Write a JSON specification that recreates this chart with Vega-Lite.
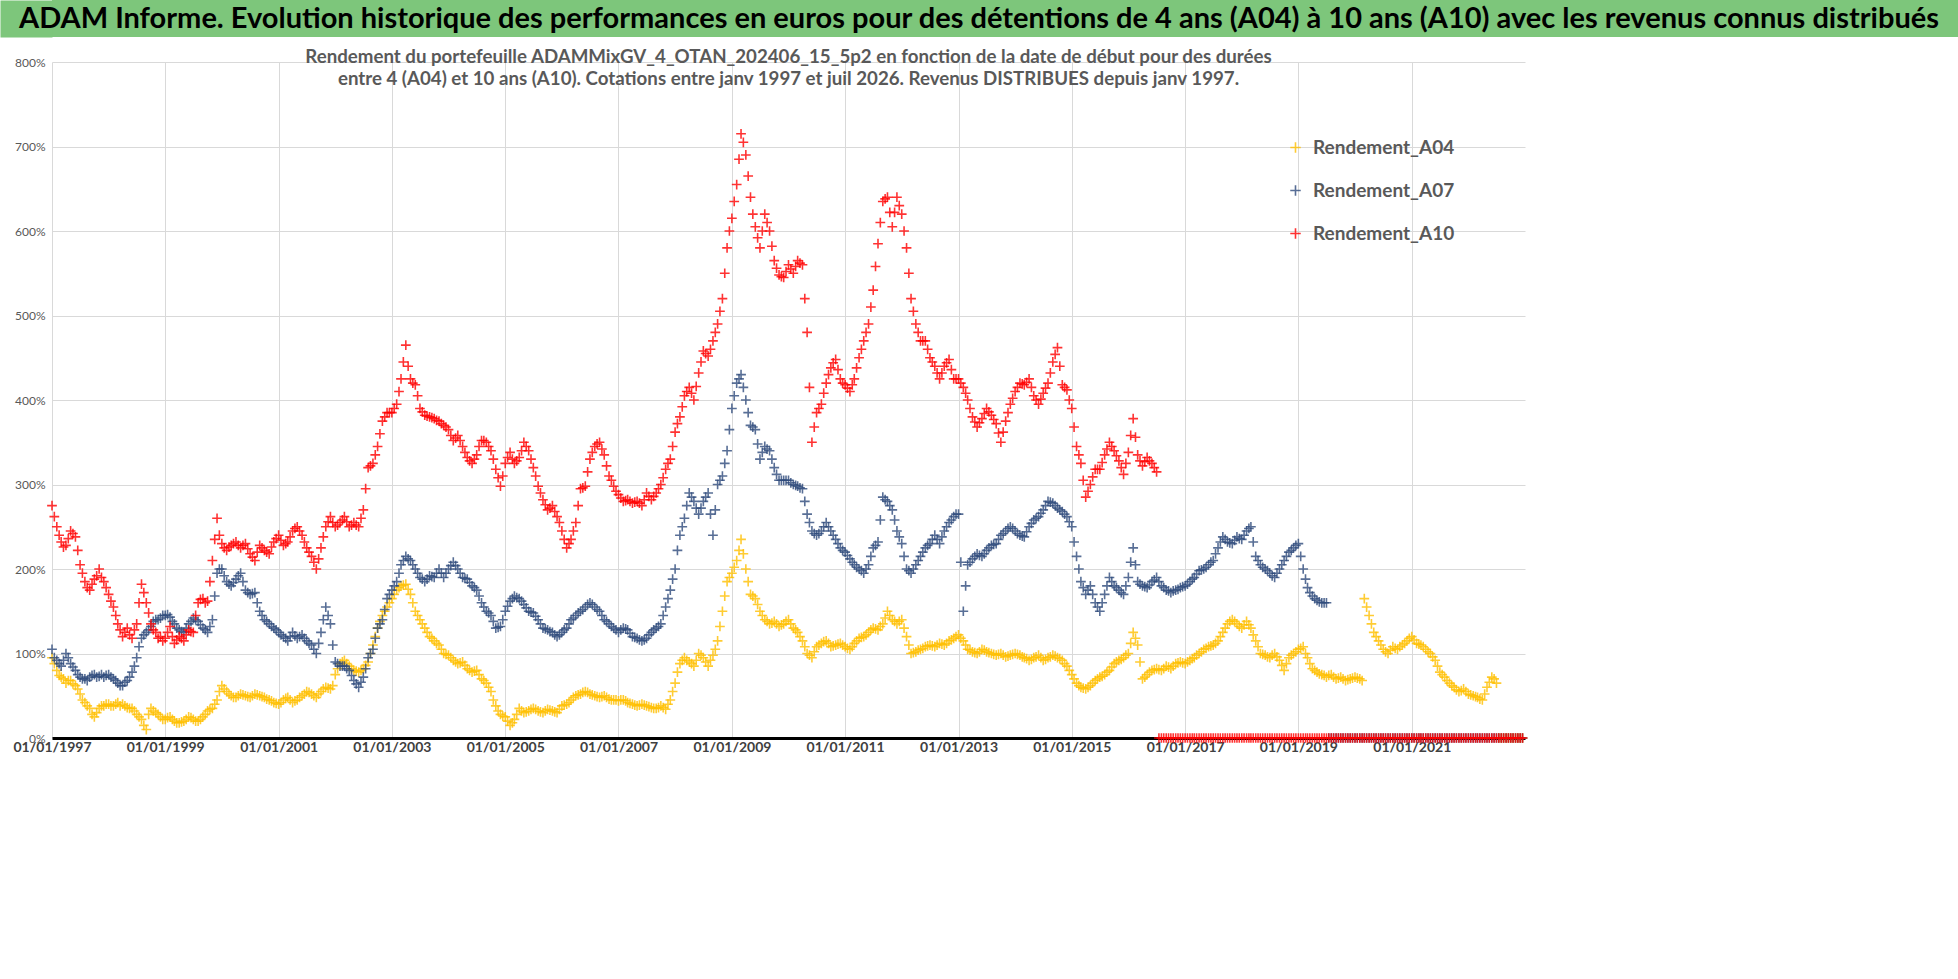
{
"$schema": "https://vega.github.io/schema/vega-lite/v6.json",
"background": "white",
"padding": 0,
"columns": 1,
"bounds": "full",
"spacing": 11,
"config": {"font": "Lato", "view": {"stroke": null}},
"concat": [
{
"width": 1906, "height": 37,
"view": {"fill": "#7DC67B", "stroke": null},
"data": {"values": [{"t": "ADAM Informe. Evolution historique des performances en euros pour des détentions de 4 ans (A04) à 10 ans (A10) avec les revenus connus distribués"}]},
"mark": {"type": "text", "fontSize": 29, "fontWeight": "bold", "color": "#000000", "font": "Lato", "dx": -26},
"encoding": {
"text": {"field": "t", "type": "nominal"},
"y": {"field": "t", "type": "nominal", "axis": {"title": null, "labels": false, "ticks": false, "grid": false, "domain": true, "domainWidth": 52, "domainColor": "#7DC67B", "domainCap": "butt", "offset": 26}}
}
},
{
"width": 1473, "height": 676,
"title": {"text": ["Rendement du portefeuille ADAMMixGV_4_OTAN_202406_15_5p2  en fonction de la date de début pour des durées", "entre 4 (A04) et 10 ans (A10). Cotations entre janv 1997 et juil 2026. Revenus DISTRIBUES depuis janv 1997."], "fontSize": 18.7, "fontWeight": "bold", "color": "#595959", "anchor": "middle", "frame": "group", "offset": -33, "lineHeight": 22, "font": "Lato"},
"data": {"values": [
{"d":"1997-01-01","A04":95,"A07":105,"A10":275},{"d":"1997-01-16","A04":88,"A07":95,"A10":262},{"d":"1997-02-01","A04":80,"A07":92,"A10":250},{"d":"1997-02-16","A04":74,"A07":88,"A10":240},{"d":"1997-03-01","A04":72,"A07":85,"A10":232},{"d":"1997-03-16","A04":70,"A07":92,"A10":226},{"d":"1997-04-01","A04":65,"A07":100,"A10":228},{"d":"1997-04-16","A04":68,"A07":95,"A10":236},{"d":"1997-05-01","A04":68,"A07":88,"A10":245},{"d":"1997-05-16","A04":64,"A07":84,"A10":242},{"d":"1997-06-01","A04":62,"A07":80,"A10":238},{"d":"1997-06-16","A04":58,"A07":75,"A10":222},{"d":"1997-07-01","A04":52,"A07":72,"A10":205},{"d":"1997-07-16","A04":45,"A07":70,"A10":195},{"d":"1997-08-01","A04":42,"A07":70,"A10":185},{"d":"1997-08-16","A04":38,"A07":68,"A10":178},{"d":"1997-09-01","A04":35,"A07":72,"A10":175},{"d":"1997-09-16","A04":28,"A07":74,"A10":182},{"d":"1997-10-01","A04":25,"A07":75,"A10":188},{"d":"1997-10-16","A04":30,"A07":72,"A10":192},{"d":"1997-11-01","A04":35,"A07":73,"A10":200},{"d":"1997-11-16","A04":38,"A07":75,"A10":190},{"d":"1997-12-01","A04":38,"A07":72,"A10":185},{"d":"1997-12-16","A04":40,"A07":74,"A10":178},
{"d":"1998-01-01","A04":40,"A07":75,"A10":170},{"d":"1998-01-16","A04":38,"A07":72,"A10":162},{"d":"1998-02-01","A04":38,"A07":70,"A10":155},{"d":"1998-02-16","A04":40,"A07":68,"A10":145},{"d":"1998-03-01","A04":42,"A07":65,"A10":135},{"d":"1998-03-16","A04":38,"A07":62,"A10":128},{"d":"1998-04-01","A04":40,"A07":62,"A10":120},{"d":"1998-04-16","A04":38,"A07":66,"A10":125},{"d":"1998-05-01","A04":36,"A07":68,"A10":130},{"d":"1998-05-16","A04":35,"A07":72,"A10":122},{"d":"1998-06-01","A04":35,"A07":78,"A10":118},{"d":"1998-06-16","A04":32,"A07":85,"A10":128},{"d":"1998-07-01","A04":28,"A07":95,"A10":135},{"d":"1998-07-16","A04":25,"A07":108,"A10":160},{"d":"1998-08-01","A04":22,"A07":118,"A10":182},{"d":"1998-08-16","A04":15,"A07":122,"A10":172},{"d":"1998-09-01","A04":10,"A07":125,"A10":160},{"d":"1998-09-16","A04":28,"A07":128,"A10":148},{"d":"1998-10-01","A04":35,"A07":132,"A10":135},{"d":"1998-10-16","A04":32,"A07":138,"A10":128},{"d":"1998-11-01","A04":30,"A07":140,"A10":125},{"d":"1998-11-16","A04":28,"A07":140,"A10":118},{"d":"1998-12-01","A04":25,"A07":142,"A10":120},{"d":"1998-12-16","A04":22,"A07":145,"A10":115},
{"d":"1999-01-01","A04":22,"A07":145,"A10":118},{"d":"1999-01-16","A04":24,"A07":146,"A10":125},{"d":"1999-02-01","A04":25,"A07":143,"A10":132},{"d":"1999-02-16","A04":22,"A07":138,"A10":120},{"d":"1999-03-01","A04":20,"A07":135,"A10":112},{"d":"1999-03-16","A04":18,"A07":130,"A10":116},{"d":"1999-04-01","A04":18,"A07":128,"A10":120},{"d":"1999-04-16","A04":19,"A07":126,"A10":118},{"d":"1999-05-01","A04":20,"A07":125,"A10":115},{"d":"1999-05-16","A04":22,"A07":130,"A10":122},{"d":"1999-06-01","A04":25,"A07":135,"A10":128},{"d":"1999-06-16","A04":24,"A07":138,"A10":126},{"d":"1999-07-01","A04":22,"A07":142,"A10":125},{"d":"1999-07-16","A04":20,"A07":140,"A10":145},{"d":"1999-08-01","A04":20,"A07":138,"A10":160},{"d":"1999-08-16","A04":22,"A07":134,"A10":164},{"d":"1999-09-01","A04":25,"A07":130,"A10":165},{"d":"1999-09-16","A04":28,"A07":128,"A10":160},{"d":"1999-10-01","A04":32,"A07":125,"A10":162},{"d":"1999-10-16","A04":34,"A07":132,"A10":185},{"d":"1999-11-01","A04":35,"A07":140,"A10":210},{"d":"1999-11-16","A04":40,"A07":168,"A10":235},{"d":"1999-12-01","A04":45,"A07":195,"A10":260},{"d":"1999-12-16","A04":55,"A07":200,"A10":240},
{"d":"2000-01-01","A04":62,"A07":200,"A10":230},{"d":"2000-01-16","A04":58,"A07":192,"A10":225},{"d":"2000-02-01","A04":55,"A07":185,"A10":222},{"d":"2000-02-16","A04":52,"A07":182,"A10":226},{"d":"2000-03-01","A04":50,"A07":180,"A10":228},{"d":"2000-03-16","A04":48,"A07":184,"A10":230},{"d":"2000-04-01","A04":48,"A07":188,"A10":232},{"d":"2000-04-16","A04":50,"A07":192,"A10":228},{"d":"2000-05-01","A04":52,"A07":195,"A10":225},{"d":"2000-05-16","A04":51,"A07":185,"A10":228},{"d":"2000-06-01","A04":50,"A07":175,"A10":230},{"d":"2000-06-16","A04":49,"A07":172,"A10":224},{"d":"2000-07-01","A04":48,"A07":170,"A10":218},{"d":"2000-07-16","A04":50,"A07":171,"A10":214},{"d":"2000-08-01","A04":52,"A07":172,"A10":210},{"d":"2000-08-16","A04":51,"A07":160,"A10":220},{"d":"2000-09-01","A04":50,"A07":150,"A10":228},{"d":"2000-09-16","A04":49,"A07":145,"A10":225},{"d":"2000-10-01","A04":48,"A07":140,"A10":222},{"d":"2000-10-16","A04":46,"A07":138,"A10":220},{"d":"2000-11-01","A04":45,"A07":135,"A10":218},{"d":"2000-11-16","A04":44,"A07":132,"A10":226},{"d":"2000-12-01","A04":42,"A07":130,"A10":232},{"d":"2000-12-16","A04":41,"A07":128,"A10":236},
{"d":"2001-01-01","A04":40,"A07":125,"A10":240},{"d":"2001-01-16","A04":42,"A07":122,"A10":234},{"d":"2001-02-01","A04":45,"A07":120,"A10":228},{"d":"2001-02-16","A04":47,"A07":118,"A10":230},{"d":"2001-03-01","A04":48,"A07":115,"A10":232},{"d":"2001-03-16","A04":45,"A07":120,"A10":238},{"d":"2001-04-01","A04":42,"A07":125,"A10":245},{"d":"2001-04-16","A04":44,"A07":121,"A10":248},{"d":"2001-05-01","A04":45,"A07":118,"A10":250},{"d":"2001-05-16","A04":48,"A07":120,"A10":245},{"d":"2001-06-01","A04":50,"A07":122,"A10":240},{"d":"2001-06-16","A04":52,"A07":118,"A10":232},{"d":"2001-07-01","A04":55,"A07":115,"A10":225},{"d":"2001-07-16","A04":54,"A07":112,"A10":220},{"d":"2001-08-01","A04":52,"A07":110,"A10":215},{"d":"2001-08-16","A04":50,"A07":105,"A10":208},{"d":"2001-09-01","A04":48,"A07":100,"A10":200},{"d":"2001-09-16","A04":52,"A07":112,"A10":212},{"d":"2001-10-01","A04":55,"A07":125,"A10":225},{"d":"2001-10-16","A04":58,"A07":140,"A10":238},{"d":"2001-11-01","A04":60,"A07":155,"A10":250},{"d":"2001-11-16","A04":59,"A07":145,"A10":256},{"d":"2001-12-01","A04":58,"A07":135,"A10":262},{"d":"2001-12-16","A04":62,"A07":110,"A10":255},
{"d":"2002-01-01","A04":75,"A07":90,"A10":250},{"d":"2002-01-16","A04":82,"A07":88,"A10":252},{"d":"2002-02-01","A04":88,"A07":85,"A10":255},{"d":"2002-02-16","A04":90,"A07":85,"A10":258},{"d":"2002-03-01","A04":92,"A07":85,"A10":262},{"d":"2002-03-16","A04":88,"A07":82,"A10":256},{"d":"2002-04-01","A04":85,"A07":80,"A10":250},{"d":"2002-04-16","A04":82,"A07":74,"A10":252},{"d":"2002-05-01","A04":80,"A07":68,"A10":255},{"d":"2002-05-16","A04":79,"A07":64,"A10":252},{"d":"2002-06-01","A04":78,"A07":60,"A10":250},{"d":"2002-06-16","A04":80,"A07":66,"A10":260},{"d":"2002-07-01","A04":82,"A07":72,"A10":270},{"d":"2002-07-16","A04":86,"A07":82,"A10":295},{"d":"2002-08-01","A04":90,"A07":95,"A10":320},{"d":"2002-08-16","A04":100,"A07":100,"A10":322},{"d":"2002-09-01","A04":110,"A07":105,"A10":325},{"d":"2002-09-16","A04":120,"A07":118,"A10":335},{"d":"2002-10-01","A04":130,"A07":130,"A10":345},{"d":"2002-10-16","A04":138,"A07":135,"A10":360},{"d":"2002-11-01","A04":145,"A07":140,"A10":375},{"d":"2002-11-16","A04":150,"A07":152,"A10":380},{"d":"2002-12-01","A04":155,"A07":165,"A10":385},{"d":"2002-12-16","A04":160,"A07":170,"A10":385},
{"d":"2003-01-01","A04":165,"A07":175,"A10":385},{"d":"2003-01-16","A04":170,"A07":180,"A10":390},{"d":"2003-02-01","A04":175,"A07":185,"A10":395},{"d":"2003-02-16","A04":178,"A07":195,"A10":410},{"d":"2003-03-01","A04":180,"A07":205,"A10":425},{"d":"2003-03-16","A04":181,"A07":210,"A10":445},{"d":"2003-04-01","A04":182,"A07":215,"A10":465},{"d":"2003-04-16","A04":176,"A07":212,"A10":440},{"d":"2003-05-01","A04":170,"A07":210,"A10":425},{"d":"2003-05-16","A04":160,"A07":205,"A10":420},{"d":"2003-06-01","A04":150,"A07":200,"A10":418},{"d":"2003-06-16","A04":145,"A07":195,"A10":405},{"d":"2003-07-01","A04":140,"A07":190,"A10":390},{"d":"2003-07-16","A04":135,"A07":188,"A10":386},{"d":"2003-08-01","A04":130,"A07":185,"A10":382},{"d":"2003-08-16","A04":125,"A07":188,"A10":381},{"d":"2003-09-01","A04":120,"A07":192,"A10":380},{"d":"2003-09-16","A04":118,"A07":191,"A10":379},{"d":"2003-10-01","A04":115,"A07":190,"A10":378},{"d":"2003-10-16","A04":112,"A07":195,"A10":376},{"d":"2003-11-01","A04":110,"A07":200,"A10":375},{"d":"2003-11-16","A04":105,"A07":195,"A10":372},{"d":"2003-12-01","A04":100,"A07":190,"A10":370},{"d":"2003-12-16","A04":99,"A07":195,"A10":368},
{"d":"2004-01-01","A04":98,"A07":200,"A10":365},{"d":"2004-01-16","A04":95,"A07":204,"A10":358},{"d":"2004-02-01","A04":92,"A07":208,"A10":352},{"d":"2004-02-16","A04":90,"A07":204,"A10":355},{"d":"2004-03-01","A04":88,"A07":200,"A10":358},{"d":"2004-03-16","A04":89,"A07":195,"A10":352},{"d":"2004-04-01","A04":90,"A07":190,"A10":345},{"d":"2004-04-16","A04":86,"A07":189,"A10":338},{"d":"2004-05-01","A04":82,"A07":188,"A10":332},{"d":"2004-05-16","A04":80,"A07":184,"A10":328},{"d":"2004-06-01","A04":78,"A07":180,"A10":325},{"d":"2004-06-16","A04":79,"A07":178,"A10":330},{"d":"2004-07-01","A04":80,"A07":175,"A10":335},{"d":"2004-07-16","A04":75,"A07":168,"A10":345},{"d":"2004-08-01","A04":70,"A07":160,"A10":352},{"d":"2004-08-16","A04":68,"A07":155,"A10":352},{"d":"2004-09-01","A04":65,"A07":150,"A10":350},{"d":"2004-09-16","A04":60,"A07":148,"A10":345},{"d":"2004-10-01","A04":55,"A07":145,"A10":340},{"d":"2004-10-16","A04":45,"A07":138,"A10":330},{"d":"2004-11-01","A04":38,"A07":130,"A10":318},{"d":"2004-11-16","A04":32,"A07":131,"A10":308},{"d":"2004-12-01","A04":28,"A07":132,"A10":298},{"d":"2004-12-16","A04":26,"A07":140,"A10":310},
{"d":"2005-01-01","A04":25,"A07":150,"A10":325},{"d":"2005-01-16","A04":20,"A07":156,"A10":332},{"d":"2005-02-01","A04":15,"A07":162,"A10":338},{"d":"2005-02-16","A04":18,"A07":165,"A10":330},{"d":"2005-03-01","A04":22,"A07":168,"A10":325},{"d":"2005-03-16","A04":28,"A07":166,"A10":328},{"d":"2005-04-01","A04":35,"A07":165,"A10":332},{"d":"2005-04-16","A04":32,"A07":162,"A10":340},{"d":"2005-05-01","A04":30,"A07":158,"A10":350},{"d":"2005-05-16","A04":31,"A07":154,"A10":345},{"d":"2005-06-01","A04":32,"A07":150,"A10":340},{"d":"2005-06-16","A04":34,"A07":149,"A10":330},{"d":"2005-07-01","A04":35,"A07":148,"A10":320},{"d":"2005-07-16","A04":34,"A07":144,"A10":310},{"d":"2005-08-01","A04":32,"A07":140,"A10":298},{"d":"2005-08-16","A04":31,"A07":135,"A10":290},{"d":"2005-09-01","A04":30,"A07":130,"A10":282},{"d":"2005-09-16","A04":32,"A07":129,"A10":276},{"d":"2005-10-01","A04":34,"A07":128,"A10":270},{"d":"2005-10-16","A04":33,"A07":126,"A10":272},{"d":"2005-11-01","A04":32,"A07":125,"A10":275},{"d":"2005-11-16","A04":31,"A07":122,"A10":268},{"d":"2005-12-01","A04":30,"A07":120,"A10":262},{"d":"2005-12-16","A04":34,"A07":122,"A10":255},
{"d":"2006-01-01","A04":38,"A07":125,"A10":245},{"d":"2006-01-16","A04":39,"A07":128,"A10":235},{"d":"2006-02-01","A04":40,"A07":130,"A10":225},{"d":"2006-02-16","A04":42,"A07":135,"A10":230},{"d":"2006-03-01","A04":45,"A07":140,"A10":235},{"d":"2006-03-16","A04":48,"A07":142,"A10":245},{"d":"2006-04-01","A04":50,"A07":145,"A10":255},{"d":"2006-04-16","A04":51,"A07":148,"A10":275},{"d":"2006-05-01","A04":52,"A07":150,"A10":295},{"d":"2006-05-16","A04":54,"A07":152,"A10":296},{"d":"2006-06-01","A04":55,"A07":155,"A10":298},{"d":"2006-06-16","A04":54,"A07":158,"A10":315},{"d":"2006-07-01","A04":52,"A07":160,"A10":330},{"d":"2006-07-16","A04":51,"A07":158,"A10":338},{"d":"2006-08-01","A04":50,"A07":155,"A10":345},{"d":"2006-08-16","A04":49,"A07":152,"A10":348},{"d":"2006-09-01","A04":48,"A07":150,"A10":350},{"d":"2006-09-16","A04":49,"A07":145,"A10":342},{"d":"2006-10-01","A04":50,"A07":140,"A10":335},{"d":"2006-10-16","A04":48,"A07":138,"A10":322},{"d":"2006-11-01","A04":46,"A07":135,"A10":310},{"d":"2006-11-16","A04":45,"A07":132,"A10":305},{"d":"2006-12-01","A04":45,"A07":130,"A10":298},{"d":"2006-12-16","A04":45,"A07":128,"A10":292},
{"d":"2007-01-01","A04":44,"A07":125,"A10":288},{"d":"2007-01-16","A04":45,"A07":128,"A10":284},{"d":"2007-02-01","A04":45,"A07":130,"A10":280},{"d":"2007-02-16","A04":44,"A07":129,"A10":281},{"d":"2007-03-01","A04":42,"A07":128,"A10":282},{"d":"2007-03-16","A04":41,"A07":124,"A10":280},{"d":"2007-04-01","A04":40,"A07":120,"A10":278},{"d":"2007-04-16","A04":39,"A07":119,"A10":279},{"d":"2007-05-01","A04":38,"A07":118,"A10":280},{"d":"2007-05-16","A04":39,"A07":116,"A10":278},{"d":"2007-06-01","A04":40,"A07":115,"A10":275},{"d":"2007-06-16","A04":39,"A07":116,"A10":282},{"d":"2007-07-01","A04":38,"A07":118,"A10":290},{"d":"2007-07-16","A04":37,"A07":122,"A10":286},{"d":"2007-08-01","A04":36,"A07":125,"A10":282},{"d":"2007-08-16","A04":35,"A07":128,"A10":286},{"d":"2007-09-01","A04":35,"A07":130,"A10":290},{"d":"2007-09-16","A04":36,"A07":132,"A10":295},{"d":"2007-10-01","A04":38,"A07":135,"A10":300},{"d":"2007-10-16","A04":36,"A07":145,"A10":308},{"d":"2007-11-01","A04":34,"A07":155,"A10":318},{"d":"2007-11-16","A04":40,"A07":165,"A10":325},{"d":"2007-12-01","A04":45,"A07":175,"A10":330},{"d":"2007-12-16","A04":55,"A07":188,"A10":345},
{"d":"2008-01-01","A04":65,"A07":200,"A10":362},{"d":"2008-01-16","A04":78,"A07":222,"A10":372},{"d":"2008-02-01","A04":88,"A07":240,"A10":380},{"d":"2008-02-16","A04":92,"A07":250,"A10":392},{"d":"2008-03-01","A04":95,"A07":260,"A10":405},{"d":"2008-03-16","A04":92,"A07":275,"A10":410},{"d":"2008-04-01","A04":90,"A07":290,"A10":415},{"d":"2008-04-16","A04":88,"A07":285,"A10":408},{"d":"2008-05-01","A04":85,"A07":280,"A10":400},{"d":"2008-05-16","A04":92,"A07":272,"A10":416},{"d":"2008-06-01","A04":100,"A07":265,"A10":432},{"d":"2008-06-16","A04":98,"A07":272,"A10":445},{"d":"2008-07-01","A04":95,"A07":280,"A10":458},{"d":"2008-07-16","A04":90,"A07":285,"A10":455},{"d":"2008-08-01","A04":85,"A07":290,"A10":452},{"d":"2008-08-16","A04":92,"A07":265,"A10":460},{"d":"2008-09-01","A04":98,"A07":240,"A10":470},{"d":"2008-09-16","A04":105,"A07":270,"A10":480},{"d":"2008-10-01","A04":115,"A07":300,"A10":490},{"d":"2008-10-16","A04":132,"A07":305,"A10":505},{"d":"2008-11-01","A04":150,"A07":310,"A10":520},{"d":"2008-11-16","A04":168,"A07":325,"A10":550},{"d":"2008-12-01","A04":185,"A07":340,"A10":580},{"d":"2008-12-16","A04":190,"A07":365,"A10":600},
{"d":"2009-01-01","A04":195,"A07":390,"A10":615},{"d":"2009-01-16","A04":202,"A07":405,"A10":635},{"d":"2009-02-01","A04":210,"A07":420,"A10":655},{"d":"2009-02-16","A04":222,"A07":425,"A10":685},{"d":"2009-03-01","A04":235,"A07":430,"A10":715},{"d":"2009-03-16","A04":218,"A07":415,"A10":705},{"d":"2009-04-01","A04":200,"A07":400,"A10":690},{"d":"2009-04-16","A04":185,"A07":385,"A10":665},{"d":"2009-05-01","A04":170,"A07":370,"A10":640},{"d":"2009-05-16","A04":168,"A07":368,"A10":620},{"d":"2009-06-01","A04":165,"A07":365,"A10":605},{"d":"2009-06-16","A04":158,"A07":348,"A10":592},{"d":"2009-07-01","A04":150,"A07":330,"A10":580},{"d":"2009-07-16","A04":145,"A07":338,"A10":600},{"d":"2009-08-01","A04":140,"A07":345,"A10":620},{"d":"2009-08-16","A04":138,"A07":342,"A10":610},{"d":"2009-09-01","A04":135,"A07":340,"A10":600},{"d":"2009-09-16","A04":136,"A07":330,"A10":582},{"d":"2009-10-01","A04":138,"A07":320,"A10":565},{"d":"2009-10-16","A04":135,"A07":312,"A10":556},{"d":"2009-11-01","A04":132,"A07":305,"A10":548},{"d":"2009-11-16","A04":134,"A07":305,"A10":546},{"d":"2009-12-01","A04":135,"A07":305,"A10":545},{"d":"2009-12-16","A04":138,"A07":305,"A10":552},
{"d":"2010-01-01","A04":140,"A07":305,"A10":560},{"d":"2010-01-16","A04":135,"A07":302,"A10":555},{"d":"2010-02-01","A04":130,"A07":300,"A10":550},{"d":"2010-02-16","A04":128,"A07":299,"A10":558},{"d":"2010-03-01","A04":125,"A07":298,"A10":565},{"d":"2010-03-16","A04":120,"A07":296,"A10":562},{"d":"2010-04-01","A04":115,"A07":295,"A10":560},{"d":"2010-04-16","A04":108,"A07":280,"A10":520},{"d":"2010-05-01","A04":100,"A07":265,"A10":480},{"d":"2010-05-16","A04":98,"A07":255,"A10":415},{"d":"2010-06-01","A04":95,"A07":245,"A10":350},{"d":"2010-06-16","A04":102,"A07":242,"A10":368},{"d":"2010-07-01","A04":108,"A07":240,"A10":385},{"d":"2010-07-16","A04":110,"A07":242,"A10":390},{"d":"2010-08-01","A04":112,"A07":245,"A10":395},{"d":"2010-08-16","A04":114,"A07":250,"A10":408},{"d":"2010-09-01","A04":115,"A07":255,"A10":420},{"d":"2010-09-16","A04":112,"A07":250,"A10":430},{"d":"2010-10-01","A04":108,"A07":245,"A10":438},{"d":"2010-10-16","A04":109,"A07":240,"A10":444},{"d":"2010-11-01","A04":110,"A07":235,"A10":448},{"d":"2010-11-16","A04":111,"A07":230,"A10":436},{"d":"2010-12-01","A04":112,"A07":225,"A10":425},{"d":"2010-12-16","A04":110,"A07":222,"A10":420},
{"d":"2011-01-01","A04":108,"A07":220,"A10":418},{"d":"2011-01-16","A04":106,"A07":216,"A10":414},{"d":"2011-02-01","A04":105,"A07":212,"A10":410},{"d":"2011-02-16","A04":108,"A07":208,"A10":418},{"d":"2011-03-01","A04":112,"A07":205,"A10":425},{"d":"2011-03-16","A04":115,"A07":202,"A10":438},{"d":"2011-04-01","A04":118,"A07":200,"A10":450},{"d":"2011-04-16","A04":119,"A07":198,"A10":460},{"d":"2011-05-01","A04":120,"A07":195,"A10":470},{"d":"2011-05-16","A04":122,"A07":200,"A10":480},{"d":"2011-06-01","A04":125,"A07":205,"A10":490},{"d":"2011-06-16","A04":128,"A07":215,"A10":510},{"d":"2011-07-01","A04":130,"A07":225,"A10":530},{"d":"2011-07-16","A04":129,"A07":228,"A10":558},{"d":"2011-08-01","A04":128,"A07":232,"A10":585},{"d":"2011-08-16","A04":132,"A07":258,"A10":610},{"d":"2011-09-01","A04":135,"A07":285,"A10":635},{"d":"2011-09-16","A04":142,"A07":282,"A10":638},{"d":"2011-10-01","A04":150,"A07":280,"A10":640},{"d":"2011-10-16","A04":145,"A07":275,"A10":622},{"d":"2011-11-01","A04":140,"A07":270,"A10":605},{"d":"2011-11-16","A04":138,"A07":258,"A10":622},{"d":"2011-12-01","A04":135,"A07":245,"A10":640},{"d":"2011-12-16","A04":138,"A07":238,"A10":630},
{"d":"2012-01-01","A04":140,"A07":230,"A10":620},{"d":"2012-01-16","A04":130,"A07":215,"A10":600},{"d":"2012-02-01","A04":120,"A07":200,"A10":580},{"d":"2012-02-16","A04":110,"A07":198,"A10":550},{"d":"2012-03-01","A04":100,"A07":195,"A10":520},{"d":"2012-03-16","A04":101,"A07":200,"A10":505},{"d":"2012-04-01","A04":102,"A07":205,"A10":490},{"d":"2012-04-16","A04":104,"A07":210,"A10":480},{"d":"2012-05-01","A04":105,"A07":215,"A10":470},{"d":"2012-05-16","A04":106,"A07":220,"A10":470},{"d":"2012-06-01","A04":108,"A07":225,"A10":470},{"d":"2012-06-16","A04":109,"A07":228,"A10":460},{"d":"2012-07-01","A04":110,"A07":230,"A10":450},{"d":"2012-07-16","A04":109,"A07":235,"A10":445},{"d":"2012-08-01","A04":108,"A07":240,"A10":440},{"d":"2012-08-16","A04":110,"A07":235,"A10":432},{"d":"2012-09-01","A04":112,"A07":230,"A10":425},{"d":"2012-09-16","A04":111,"A07":238,"A10":432},{"d":"2012-10-01","A04":110,"A07":245,"A10":440},{"d":"2012-10-16","A04":112,"A07":250,"A10":444},{"d":"2012-11-01","A04":115,"A07":255,"A10":448},{"d":"2012-11-16","A04":116,"A07":258,"A10":436},{"d":"2012-12-01","A04":118,"A07":262,"A10":425},{"d":"2012-12-16","A04":120,"A07":265,"A10":425},
{"d":"2013-01-01","A04":122,"A07":265,"A10":425},{"d":"2013-01-16","A04":118,"A07":208,"A10":420},{"d":"2013-02-01","A04":115,"A07":150,"A10":415},{"d":"2013-02-16","A04":110,"A07":180,"A10":408},{"d":"2013-03-01","A04":105,"A07":205,"A10":400},{"d":"2013-03-16","A04":104,"A07":208,"A10":390},{"d":"2013-04-01","A04":102,"A07":212,"A10":380},{"d":"2013-04-16","A04":101,"A07":215,"A10":374},{"d":"2013-05-01","A04":100,"A07":218,"A10":368},{"d":"2013-05-16","A04":102,"A07":216,"A10":373},{"d":"2013-06-01","A04":105,"A07":215,"A10":378},{"d":"2013-06-16","A04":104,"A07":218,"A10":384},{"d":"2013-07-01","A04":102,"A07":222,"A10":390},{"d":"2013-07-16","A04":101,"A07":225,"A10":386},{"d":"2013-08-01","A04":100,"A07":228,"A10":382},{"d":"2013-08-16","A04":99,"A07":229,"A10":377},{"d":"2013-09-01","A04":98,"A07":230,"A10":372},{"d":"2013-09-16","A04":99,"A07":235,"A10":361},{"d":"2013-10-01","A04":100,"A07":240,"A10":350},{"d":"2013-10-16","A04":98,"A07":242,"A10":362},{"d":"2013-11-01","A04":96,"A07":245,"A10":375},{"d":"2013-11-16","A04":97,"A07":248,"A10":385},{"d":"2013-12-01","A04":98,"A07":250,"A10":395},{"d":"2013-12-16","A04":99,"A07":248,"A10":402},
{"d":"2014-01-01","A04":100,"A07":245,"A10":410},{"d":"2014-01-16","A04":99,"A07":242,"A10":415},{"d":"2014-02-01","A04":98,"A07":240,"A10":420},{"d":"2014-02-16","A04":96,"A07":239,"A10":419},{"d":"2014-03-01","A04":95,"A07":238,"A10":418},{"d":"2014-03-16","A04":94,"A07":244,"A10":421},{"d":"2014-04-01","A04":92,"A07":250,"A10":425},{"d":"2014-04-16","A04":93,"A07":254,"A10":415},{"d":"2014-05-01","A04":95,"A07":258,"A10":405},{"d":"2014-05-16","A04":96,"A07":260,"A10":400},{"d":"2014-06-01","A04":98,"A07":262,"A10":395},{"d":"2014-06-16","A04":95,"A07":266,"A10":401},{"d":"2014-07-01","A04":92,"A07":270,"A10":408},{"d":"2014-07-16","A04":93,"A07":275,"A10":414},{"d":"2014-08-01","A04":95,"A07":280,"A10":420},{"d":"2014-08-16","A04":96,"A07":279,"A10":432},{"d":"2014-09-01","A04":98,"A07":278,"A10":445},{"d":"2014-09-16","A04":97,"A07":275,"A10":454},{"d":"2014-10-01","A04":95,"A07":272,"A10":462},{"d":"2014-10-16","A04":94,"A07":270,"A10":440},{"d":"2014-11-01","A04":92,"A07":268,"A10":418},{"d":"2014-11-16","A04":88,"A07":265,"A10":415},{"d":"2014-12-01","A04":85,"A07":262,"A10":412},{"d":"2014-12-16","A04":80,"A07":256,"A10":400},
{"d":"2015-01-01","A04":75,"A07":250,"A10":390},{"d":"2015-01-16","A04":70,"A07":232,"A10":368},{"d":"2015-02-01","A04":65,"A07":215,"A10":345},{"d":"2015-02-16","A04":62,"A07":200,"A10":335},{"d":"2015-03-01","A04":60,"A07":185,"A10":325},{"d":"2015-03-16","A04":59,"A07":178,"A10":305},{"d":"2015-04-01","A04":58,"A07":170,"A10":285},{"d":"2015-04-16","A04":60,"A07":175,"A10":292},{"d":"2015-05-01","A04":62,"A07":180,"A10":300},{"d":"2015-05-16","A04":65,"A07":170,"A10":309},{"d":"2015-06-01","A04":68,"A07":160,"A10":318},{"d":"2015-06-16","A04":70,"A07":155,"A10":318},{"d":"2015-07-01","A04":72,"A07":150,"A10":318},{"d":"2015-07-16","A04":73,"A07":160,"A10":326},{"d":"2015-08-01","A04":75,"A07":170,"A10":335},{"d":"2015-08-16","A04":78,"A07":180,"A10":342},{"d":"2015-09-01","A04":80,"A07":190,"A10":350},{"d":"2015-09-16","A04":84,"A07":185,"A10":345},{"d":"2015-10-01","A04":88,"A07":180,"A10":340},{"d":"2015-10-16","A04":90,"A07":178,"A10":334},{"d":"2015-11-01","A04":92,"A07":175,"A10":328},{"d":"2015-11-16","A04":93,"A07":172,"A10":320},{"d":"2015-12-01","A04":95,"A07":170,"A10":312},{"d":"2015-12-16","A04":98,"A07":180,"A10":325},
{"d":"2016-01-01","A04":100,"A07":190,"A10":338},{"d":"2016-01-16","A04":112,"A07":208,"A10":358},{"d":"2016-02-01","A04":125,"A07":225,"A10":378},{"d":"2016-02-16","A04":118,"A07":205,"A10":356},{"d":"2016-03-01","A04":110,"A07":185,"A10":335},{"d":"2016-03-16","A04":90,"A07":182,"A10":328},{"d":"2016-04-01","A04":70,"A07":180,"A10":322},{"d":"2016-04-16","A04":72,"A07":179,"A10":327},{"d":"2016-05-01","A04":75,"A07":178,"A10":332},{"d":"2016-05-16","A04":78,"A07":181,"A10":328},{"d":"2016-06-01","A04":80,"A07":185,"A10":325},{"d":"2016-06-16","A04":81,"A07":187,"A10":320},{"d":"2016-07-01","A04":82,"A07":190,"A10":315},{"d":"2016-07-16","A04":81,"A07":185,"A10":0},{"d":"2016-08-01","A04":80,"A07":180,"A10":0},{"d":"2016-08-16","A04":82,"A07":178,"A10":0},{"d":"2016-09-01","A04":85,"A07":175,"A10":0},{"d":"2016-09-16","A04":84,"A07":174,"A10":0},{"d":"2016-10-01","A04":82,"A07":172,"A10":0},{"d":"2016-10-16","A04":85,"A07":174,"A10":0},{"d":"2016-11-01","A04":88,"A07":175,"A10":0},{"d":"2016-11-16","A04":89,"A07":176,"A10":0},{"d":"2016-12-01","A04":90,"A07":178,"A10":0},{"d":"2016-12-16","A04":89,"A07":179,"A10":0},
{"d":"2017-01-01","A04":88,"A07":180,"A10":0},{"d":"2017-01-16","A04":90,"A07":182,"A10":0},{"d":"2017-02-01","A04":92,"A07":185,"A10":0},{"d":"2017-02-16","A04":94,"A07":188,"A10":0},{"d":"2017-03-01","A04":95,"A07":190,"A10":0},{"d":"2017-03-16","A04":98,"A07":194,"A10":0},{"d":"2017-04-01","A04":100,"A07":198,"A10":0},{"d":"2017-04-16","A04":102,"A07":199,"A10":0},{"d":"2017-05-01","A04":105,"A07":200,"A10":0},{"d":"2017-05-16","A04":106,"A07":202,"A10":0},{"d":"2017-06-01","A04":108,"A07":205,"A10":0},{"d":"2017-06-16","A04":109,"A07":208,"A10":0},{"d":"2017-07-01","A04":110,"A07":210,"A10":0},{"d":"2017-07-16","A04":112,"A07":218,"A10":0},{"d":"2017-08-01","A04":115,"A07":225,"A10":0},{"d":"2017-08-16","A04":120,"A07":232,"A10":0},{"d":"2017-09-01","A04":125,"A07":238,"A10":0},{"d":"2017-09-16","A04":130,"A07":235,"A10":0},{"d":"2017-10-01","A04":135,"A07":232,"A10":0},{"d":"2017-10-16","A04":138,"A07":231,"A10":0},{"d":"2017-11-01","A04":140,"A07":230,"A10":0},{"d":"2017-11-16","A04":138,"A07":234,"A10":0},{"d":"2017-12-01","A04":135,"A07":238,"A10":0},{"d":"2017-12-16","A04":132,"A07":236,"A10":0},
{"d":"2018-01-01","A04":130,"A07":235,"A10":0},{"d":"2018-01-16","A04":134,"A07":240,"A10":0},{"d":"2018-02-01","A04":138,"A07":245,"A10":0},{"d":"2018-02-16","A04":134,"A07":248,"A10":0},{"d":"2018-03-01","A04":130,"A07":250,"A10":0},{"d":"2018-03-16","A04":122,"A07":232,"A10":0},{"d":"2018-04-01","A04":115,"A07":215,"A10":0},{"d":"2018-04-16","A04":108,"A07":210,"A10":0},{"d":"2018-05-01","A04":100,"A07":205,"A10":0},{"d":"2018-05-16","A04":99,"A07":202,"A10":0},{"d":"2018-06-01","A04":98,"A07":200,"A10":0},{"d":"2018-06-16","A04":96,"A07":198,"A10":0},{"d":"2018-07-01","A04":95,"A07":195,"A10":0},{"d":"2018-07-16","A04":98,"A07":192,"A10":0},{"d":"2018-08-01","A04":100,"A07":190,"A10":0},{"d":"2018-08-16","A04":96,"A07":195,"A10":0},{"d":"2018-09-01","A04":92,"A07":200,"A10":0},{"d":"2018-09-16","A04":86,"A07":205,"A10":0},{"d":"2018-10-01","A04":80,"A07":210,"A10":0},{"d":"2018-10-16","A04":88,"A07":215,"A10":0},{"d":"2018-11-01","A04":95,"A07":220,"A10":0},{"d":"2018-11-16","A04":98,"A07":222,"A10":0},{"d":"2018-12-01","A04":100,"A07":225,"A10":0},{"d":"2018-12-16","A04":102,"A07":228,"A10":0},
{"d":"2019-01-01","A04":105,"A07":230,"A10":0},{"d":"2019-01-16","A04":106,"A07":215,"A10":0},{"d":"2019-02-01","A04":108,"A07":200,"A10":0},{"d":"2019-02-16","A04":100,"A07":188,"A10":0},{"d":"2019-03-01","A04":95,"A07":178,"A10":0},{"d":"2019-03-16","A04":88,"A07":172,"A10":0},{"d":"2019-04-01","A04":82,"A07":168,"A10":0},{"d":"2019-04-16","A04":80,"A07":165,"A10":0},{"d":"2019-05-01","A04":78,"A07":163,"A10":0},{"d":"2019-05-16","A04":76,"A07":161,"A10":0},{"d":"2019-06-01","A04":75,"A07":160,"A10":0},{"d":"2019-06-16","A04":74,"A07":160,"A10":0},{"d":"2019-07-01","A04":72,"A07":160,"A10":0},{"d":"2019-07-16","A04":74,"A07":0,"A10":0},{"d":"2019-08-01","A04":75,"A07":0,"A10":0},{"d":"2019-08-16","A04":72,"A07":0,"A10":0},{"d":"2019-09-01","A04":70,"A07":0,"A10":0},{"d":"2019-09-16","A04":71,"A07":0,"A10":0},{"d":"2019-10-01","A04":72,"A07":0,"A10":0},{"d":"2019-10-16","A04":70,"A07":0,"A10":0},{"d":"2019-11-01","A04":68,"A07":0,"A10":0},{"d":"2019-11-16","A04":69,"A07":0,"A10":0},{"d":"2019-12-01","A04":70,"A07":0,"A10":0},{"d":"2019-12-16","A04":71,"A07":0,"A10":0},
{"d":"2020-01-01","A04":72,"A07":0,"A10":0},{"d":"2020-01-16","A04":71,"A07":0,"A10":0},{"d":"2020-02-01","A04":70,"A07":0,"A10":0},{"d":"2020-02-16","A04":68,"A07":0,"A10":0},{"d":"2020-03-01","A04":165,"A07":0,"A10":0},{"d":"2020-03-16","A04":155,"A07":0,"A10":0},{"d":"2020-04-01","A04":145,"A07":0,"A10":0},{"d":"2020-04-16","A04":135,"A07":0,"A10":0},{"d":"2020-05-01","A04":125,"A07":0,"A10":0},{"d":"2020-05-16","A04":120,"A07":0,"A10":0},{"d":"2020-06-01","A04":115,"A07":0,"A10":0},{"d":"2020-06-16","A04":110,"A07":0,"A10":0},{"d":"2020-07-01","A04":105,"A07":0,"A10":0},{"d":"2020-07-16","A04":102,"A07":0,"A10":0},{"d":"2020-08-01","A04":100,"A07":0,"A10":0},{"d":"2020-08-16","A04":104,"A07":0,"A10":0},{"d":"2020-09-01","A04":108,"A07":0,"A10":0},{"d":"2020-09-16","A04":106,"A07":0,"A10":0},{"d":"2020-10-01","A04":105,"A07":0,"A10":0},{"d":"2020-10-16","A04":108,"A07":0,"A10":0},{"d":"2020-11-01","A04":110,"A07":0,"A10":0},{"d":"2020-11-16","A04":112,"A07":0,"A10":0},{"d":"2020-12-01","A04":115,"A07":0,"A10":0},{"d":"2020-12-16","A04":118,"A07":0,"A10":0},
{"d":"2021-01-01","A04":120,"A07":0,"A10":0},{"d":"2021-01-16","A04":116,"A07":0,"A10":0},{"d":"2021-02-01","A04":112,"A07":0,"A10":0},{"d":"2021-02-16","A04":111,"A07":0,"A10":0},{"d":"2021-03-01","A04":110,"A07":0,"A10":0},{"d":"2021-03-16","A04":108,"A07":0,"A10":0},{"d":"2021-04-01","A04":105,"A07":0,"A10":0},{"d":"2021-04-16","A04":102,"A07":0,"A10":0},{"d":"2021-05-01","A04":100,"A07":0,"A10":0},{"d":"2021-05-16","A04":96,"A07":0,"A10":0},{"d":"2021-06-01","A04":92,"A07":0,"A10":0},{"d":"2021-06-16","A04":85,"A07":0,"A10":0},{"d":"2021-07-01","A04":78,"A07":0,"A10":0},{"d":"2021-07-16","A04":75,"A07":0,"A10":0},{"d":"2021-08-01","A04":72,"A07":0,"A10":0},{"d":"2021-08-16","A04":68,"A07":0,"A10":0},{"d":"2021-09-01","A04":65,"A07":0,"A10":0},{"d":"2021-09-16","A04":62,"A07":0,"A10":0},{"d":"2021-10-01","A04":60,"A07":0,"A10":0},{"d":"2021-10-16","A04":57,"A07":0,"A10":0},{"d":"2021-11-01","A04":55,"A07":0,"A10":0},{"d":"2021-11-16","A04":56,"A07":0,"A10":0},{"d":"2021-12-01","A04":58,"A07":0,"A10":0},{"d":"2021-12-16","A04":55,"A07":0,"A10":0},
{"d":"2022-01-01","A04":52,"A07":0,"A10":0},{"d":"2022-01-16","A04":51,"A07":0,"A10":0},{"d":"2022-02-01","A04":50,"A07":0,"A10":0},{"d":"2022-02-16","A04":49,"A07":0,"A10":0},{"d":"2022-03-01","A04":48,"A07":0,"A10":0},{"d":"2022-03-16","A04":46,"A07":0,"A10":0},{"d":"2022-04-01","A04":45,"A07":0,"A10":0},{"d":"2022-04-16","A04":52,"A07":0,"A10":0},{"d":"2022-05-01","A04":60,"A07":0,"A10":0},{"d":"2022-05-16","A04":66,"A07":0,"A10":0},{"d":"2022-06-01","A04":72,"A07":0,"A10":0},{"d":"2022-06-16","A04":70,"A07":0,"A10":0},{"d":"2022-07-01","A04":65,"A07":0,"A10":0},{"d":"2022-07-16","A04":0,"A07":0,"A10":0},{"d":"2022-08-01","A04":0,"A07":0,"A10":0},{"d":"2022-08-16","A04":0,"A07":0,"A10":0},{"d":"2022-09-01","A04":0,"A07":0,"A10":0},{"d":"2022-09-16","A04":0,"A07":0,"A10":0},{"d":"2022-10-01","A04":0,"A07":0,"A10":0},{"d":"2022-10-16","A04":0,"A07":0,"A10":0},{"d":"2022-11-01","A04":0,"A07":0,"A10":0},{"d":"2022-11-16","A04":0,"A07":0,"A10":0},{"d":"2022-12-01","A04":0,"A07":0,"A10":0},{"d":"2022-12-16","A04":0,"A07":0,"A10":0}
]},
"transform": [{"fold": ["A04", "A07", "A10"], "as": ["key", "v"]}],
"mark": {"type": "point", "shape": "M-1,0L1,0M0,-1L0,1", "filled": false, "size": 95, "strokeWidth": 1.6, "opacity": 0.8},
"encoding": {
"x": {"field": "d", "type": "temporal",
 "scale": {"type": "utc", "domain": [{"year": 1997, "month": 1, "date": 1, "utc": true}, {"year": 2023, "month": 1, "date": 1, "utc": true}]},
 "axis": {"title": null, "values": [{"year": 1997, "month": 1, "date": 1, "utc": true}, {"year": 1999, "month": 1, "date": 1, "utc": true}, {"year": 2001, "month": 1, "date": 1, "utc": true}, {"year": 2003, "month": 1, "date": 1, "utc": true}, {"year": 2005, "month": 1, "date": 1, "utc": true}, {"year": 2007, "month": 1, "date": 1, "utc": true}, {"year": 2009, "month": 1, "date": 1, "utc": true}, {"year": 2011, "month": 1, "date": 1, "utc": true}, {"year": 2013, "month": 1, "date": 1, "utc": true}, {"year": 2015, "month": 1, "date": 1, "utc": true}, {"year": 2017, "month": 1, "date": 1, "utc": true}, {"year": 2019, "month": 1, "date": 1, "utc": true}, {"year": 2021, "month": 1, "date": 1, "utc": true}],
  "format": "%d/%m/%Y", "labelFontSize": 14, "labelFontWeight": "bold", "labelColor": "#404040", "labelFlush": false, "labelOverlap": false, "labelPadding": 2, "ticks": false, "domainColor": "#000000", "domainWidth": 3, "gridColor": "#D9D9D9", "gridWidth": 1}},
"y": {"field": "v", "type": "quantitative", "scale": {"domain": [0, 800]},
 "axis": {"title": "800%", "titleColor": "#FFFFFF", "titleFontSize": 10, "titlePadding": 2, "minExtent": 40, "values": [0, 100, 200, 300, 400, 500, 600, 700, 800], "labelExpr": "datum.value + '%'", "labelFontSize": 12, "labelColor": "#595959", "labelPadding": 7, "ticks": false, "domain": false, "gridColor": "#D9D9D9", "gridWidth": 1}},
"color": {"field": "key", "type": "nominal", "scale": {"domain": ["A04", "A07", "A10"], "range": ["#FFC000", "#2F4B7C", "#FF0000"]},
 "legend": {"orient": "none", "legendX": 1234, "legendY": 138, "title": null, "labelExpr": "'Rendement_' + datum.label", "labelFontSize": 19, "labelFontWeight": "bold", "labelColor": "#595959", "symbolType": "M-1,0L1,0M0,-1L0,1", "symbolSize": 110, "symbolStrokeWidth": 1.6, "rowPadding": 23, "labelOffset": 8}},
"order": {"field": "key", "sort": "ascending"}
}
}
]
}
